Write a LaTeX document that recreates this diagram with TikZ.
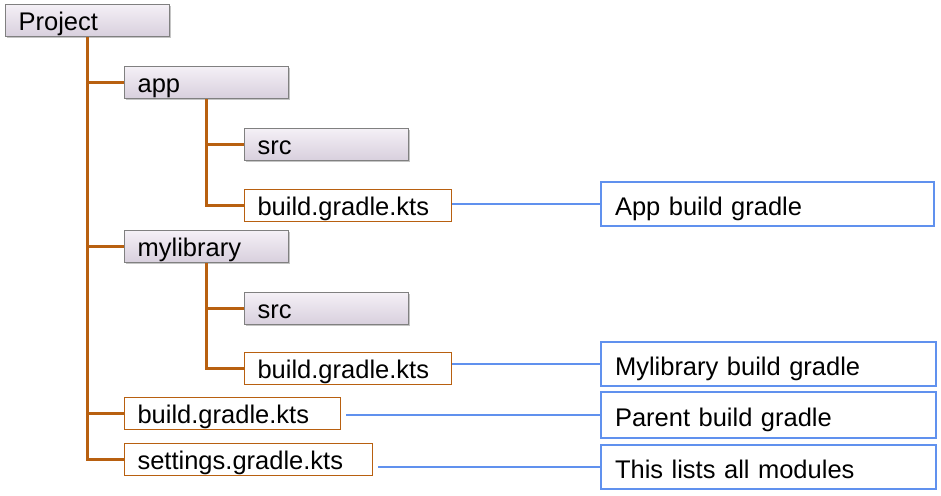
\documentclass[tikz,border=0pt]{standalone}
\usepackage{fontspec}
\setmainfont{Liberation Sans}
\usetikzlibrary{positioning,shadows}
\definecolor{trunk}{RGB}{184,96,16}
\definecolor{noteblue}{RGB}{96,145,238}
\definecolor{dirtop}{RGB}{244,240,246}
\definecolor{dirbot}{RGB}{216,207,221}
\tikzset{
    dir/.style =    {rectangle,
                    top color=dirtop,
                    bottom color=dirbot,
                    draw=black!50,
                    line width=1.2pt,
                    drop shadow={shadow xshift=1.5pt,shadow yshift=-1.5pt,fill=black!45},
                    text=black,
                    align=left,
                    text width=138pt,
                    inner xsep=13pt,
                    minimum height=32pt,
                    text height=21pt,
                    text depth=2pt,
                    anchor=north west},
    file/.style =   {rectangle,
                    fill=white,
                    draw=trunk,
                    text=black,
                    line width=1.1pt,
                    align=left,
                    text width=#1,
                    inner xsep=13pt,
                    minimum height=32pt,
                    text height=21pt,
                    text depth=2pt,
                    anchor=north west},
    note/.style =   {rectangle,
                    fill=white,
                    draw=noteblue,
                    text=black,
                    line width=2pt,
                    align=left,
                    text width=307pt,
                    inner xsep=14pt,
                    minimum height=44pt,
                    text height=23pt,
                    text depth=1pt,
                    anchor=north west},
    -,
    tree/.style =   {draw=trunk,
                    line width=3pt},
    link/.style =   {draw=noteblue,
                    line width=1.4pt},
    font=\fontsize{25.5}{30}\selectfont}

\begin{document}
\begin{tikzpicture}[x=1pt,y=-1pt]
                \useasboundingbox (0,0) rectangle (941,495);
                % left: the folders and files
                \node[dir]              (project)   at (5,4)        {Project};
                \node[dir]              (app)       at (124,66)     {app};
                \node[dir]              (appsrc)    at (244,128)    {src};
                \node[file=181pt]       (appbuild)  at (244,189)    {build.gradle.kts};
                \node[dir]              (mylib)     at (124,230)    {mylibrary};
                \node[dir]              (libsrc)    at (244,292)    {src};
                \node[file=181pt]       (libbuild)  at (244,352)    {build.gradle.kts};
                \node[file=190pt]       (rootbuild) at (124,397)    {build.gradle.kts};
                \node[file=222pt]       (settings)  at (124,443)    {settings.gradle.kts};
                % right: the notes
                \node[note,text width=305pt] (appnote) at (600,181) {App build gradle};
                \node[note]             (libnote)   at (600,341)    {Mylibrary build gradle};
                \node[note,minimum height=46pt] (rootnote) at (600,391) {Parent build gradle};
                \node[note]             (setnote)   at (600,444)    {This lists all modules};
                % tree
                \path [tree]    (project.south) |- (app.west)
                                (project.south) |- (mylib.west)
                                (project.south) |- (rootbuild.west)
                                (project.south) |- (settings.west)
                                (app.south)     |- (appsrc.west)
                                (app.south)     |- (appbuild.west)
                                (mylib.south)   |- (libsrc.west)
                                (mylib.south)   |- (libbuild.west);
                % links to the notes
                \path [link]    (appbuild.east |- appnote.west) edge [link] (appnote.west)
                                (libbuild.east |- libnote.west) edge [link] (libnote.west)
                                (rootbuild.east |- rootnote.west) edge [link,shorten <=5pt] (rootnote.west)
                                (settings.east |- setnote.west) edge [link,shorten <=5pt] (setnote.west);
        \end{tikzpicture}
\end{document}
